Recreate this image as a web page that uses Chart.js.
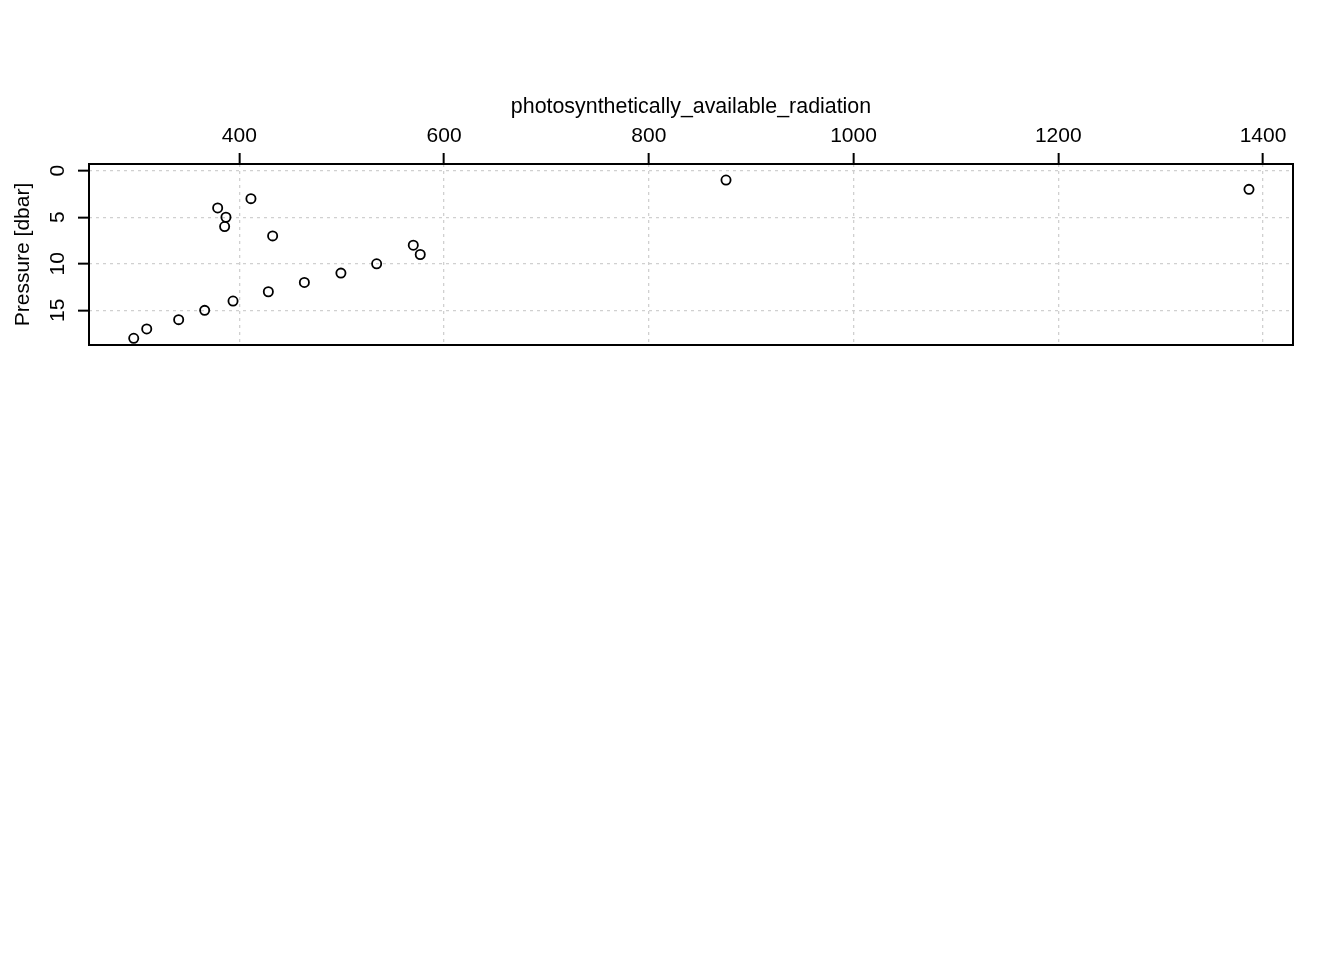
<!DOCTYPE html>
<html>
<head>
<meta charset="utf-8">
<script src="https://cdn.jsdelivr.net/npm/chart.js@4/dist/chart.umd.min.js"></script>
<style>
  html, body { margin: 0; padding: 0; background: #ffffff; }
  canvas { display: block; }
</style>
</head>
<body>
<canvas id="c" width="1344" height="960"></canvas>
<script>
// ---- data ----
const pressure = [1, 2, 3, 4, 5, 6, 7, 8, 9, 10, 11, 12, 13, 14, 15, 16, 17, 18];
const par = [875.4, 1386.3, 411.3, 378.8, 386.9, 385.6, 432.5, 569.9, 576.7, 534.1, 499.2, 463.5, 428.3, 393.8, 366.1, 340.7, 309.5, 296.8];
const xTicks = [400, 600, 800, 1000, 1200, 1400];
const yTicks = [0, 5, 10, 15];
const xTitle = 'photosynthetically_available_radiation';
const yTitle = 'Pressure [dbar]';

const FONT = '21px "Liberation Sans", Arial, Helvetica, sans-serif';
const TITLE_FONT = '21.4px "Liberation Sans", Arial, Helvetica, sans-serif';

const points = pressure.map((p, i) => ({ x: par[i], y: p }));

const decor = {
  id: 'decor',
  afterDraw(chart) {
    const ctx = chart.ctx;
    const a = chart.chartArea;
    const xs = chart.scales.x, ys = chart.scales.y;
    ctx.save();
    // box
    ctx.strokeStyle = '#000';
    ctx.lineWidth = 2;
    ctx.strokeRect(a.left, a.top, a.right - a.left, a.bottom - a.top);
    ctx.fillStyle = '#000';
    ctx.font = FONT;
    // x tick labels
    ctx.textAlign = 'center';
    ctx.textBaseline = 'alphabetic';
    xTicks.forEach(v => ctx.fillText(String(v), xs.getPixelForValue(v), 142));
    // y tick labels (rotated)
    yTicks.forEach(v => {
      ctx.save();
      ctx.translate(64, ys.getPixelForValue(v));
      ctx.rotate(-Math.PI / 2);
      ctx.textAlign = 'center';
      ctx.fillText(String(v), 0, 0);
      ctx.restore();
    });
    // y title
    ctx.save();
    ctx.translate(29, (a.top + a.bottom) / 2);
    ctx.rotate(-Math.PI / 2);
    ctx.textAlign = 'center';
    ctx.fillText(yTitle, 0, 0);
    ctx.restore();
    // x title
    ctx.font = TITLE_FONT;
    ctx.fillText(xTitle, (a.left + a.right) / 2, 113);
    ctx.restore();
  }
};

new Chart(document.getElementById('c'), {
  type: 'scatter',
  data: {
    datasets: [{
      data: points,
      showLine: false,
      pointStyle: 'circle',
      pointRadius: 4.6,
      pointHoverRadius: 4.6,
      pointBorderWidth: 1.8,
      borderColor: '#000',
      backgroundColor: 'rgba(0,0,0,0)'
    }]
  },
  options: {
    responsive: false,
    animation: false,
    events: [],
    layout: { padding: { left: 0, top: 0, right: 51, bottom: 615 } },
    plugins: { legend: { display: false }, tooltip: { enabled: false }, title: { display: false } },
    scales: {
      x: {
        type: 'linear',
        position: 'top',
        min: 253.1,
        max: 1429.3,
        afterBuildTicks: s => { s.ticks = xTicks.map(v => ({ value: v })); },
        afterFit: s => { s.height = 164; },
        ticks: { display: false },
        grid: { color: '#d0d0d0', lineWidth: 1.3, tickColor: '#000', tickLength: 11, tickWidth: 2 },
        border: { display: false, dash: [3, 4] }
      },
      y: {
        type: 'linear',
        reverse: true,
        min: -0.72,
        max: 18.72,
        afterBuildTicks: s => { s.ticks = yTicks.map(v => ({ value: v })); },
        afterFit: s => { s.width = 89; },
        ticks: { display: false },
        grid: { color: '#d0d0d0', lineWidth: 1.3, tickColor: '#000', tickLength: 11, tickWidth: 2 },
        border: { display: false, dash: [3, 4] }
      }
    }
  },
  plugins: [decor]
});
</script>
</body>
</html>
